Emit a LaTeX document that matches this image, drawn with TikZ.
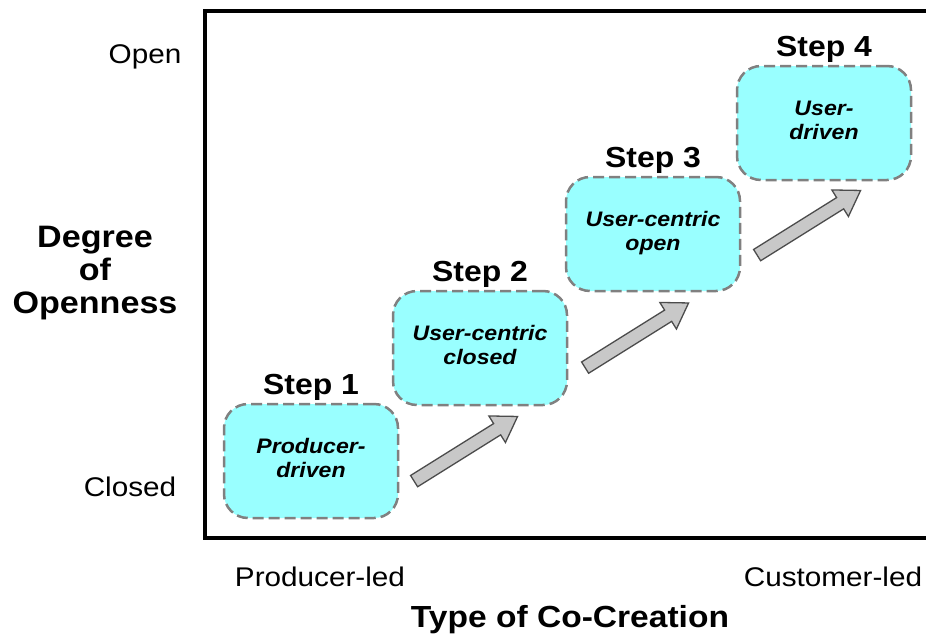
\documentclass[tikz,border=0pt]{standalone}
\usepackage{fontspec}
\setmainfont{Liberation Sans}[FakeStretch=1.1]
\usetikzlibrary{shapes.arrows,calc,positioning}
\definecolor{stepcyan}{RGB}{153,255,255}
\definecolor{arrowgray}{RGB}{200,200,200}
\definecolor{dashgray}{RGB}{128,128,128}
\begin{document}
\begin{tikzpicture}[x=1pt,y=-1pt,
	stepbox/.style={draw=dashgray, line width=2.5pt, dash pattern=on 11pt off 5pt,
		fill=stepcyan, rounded corners=24pt, minimum width=174pt, minimum height=114pt,
		align=center, text depth=6pt, font=\fontsize{21}{24}\selectfont\bfseries\itshape},
	steplabel/.style={font=\fontsize{29}{34}\selectfont\bfseries},
	axislabel/.style={font=\fontsize{27}{32}\selectfont},
	axistitle/.style={font=\fontsize{31}{33}\selectfont\bfseries, align=center},
	blockarrow/.style={single arrow, draw=black!70, line width=1.3pt, fill=arrowgray,
		minimum height=122pt, inner sep=6pt, single arrow head extend=9pt,
		single arrow tip angle=66, rotate=32}]
	\useasboundingbox (0,0) rectangle (926,637);
	% Rahmen
	\draw[line width=3.5pt] (930,11) -- (205,11) -- (205,538) -- (930,538);
	% Achsen
	\node[axislabel] (open) at (145,57) {Open};
	\node[axislabel] (closed) at (130,487) {Closed};
	\node[axistitle] (degree) at (95,273) {Degree\\of\\Openness};
	\node[axislabel] (prodled) at (320,577) {Producer-led};
	\node[axislabel] (custled) at (833,577) {Customer-led};
	\node[axistitle, font=\fontsize{30.5}{33}\selectfont\bfseries] (type) at (570,620)
	{Type of Co-Creation};
	% Stufen
	\node[stepbox] (s1) at (311,461) {Producer-\\driven};
	\node[stepbox] (s2) at (480,348) {User-centric\\closed};
	\node[stepbox] (s3) at (653,234) {User-centric\\open};
	\node[stepbox] (s4) at (824,123) {User-\\driven};
	\node[steplabel, above=-1pt of s1] (l1) {Step 1};
	\node[steplabel, above=-1pt of s2] (l2) {Step 2};
	\node[steplabel, above=-1pt of s3] (l3) {Step 3};
	\node[steplabel, above=-1pt of s4] (l4) {Step 4};
	% Pfeile
	\foreach \a/\b [count=\i] in {s1/s2,s2/s3,s3/s4}
		\node[blockarrow] (arr\i) at ($(\a)!0.5!(\b)+(66,47)$) {};
\end{tikzpicture}
\end{document}
